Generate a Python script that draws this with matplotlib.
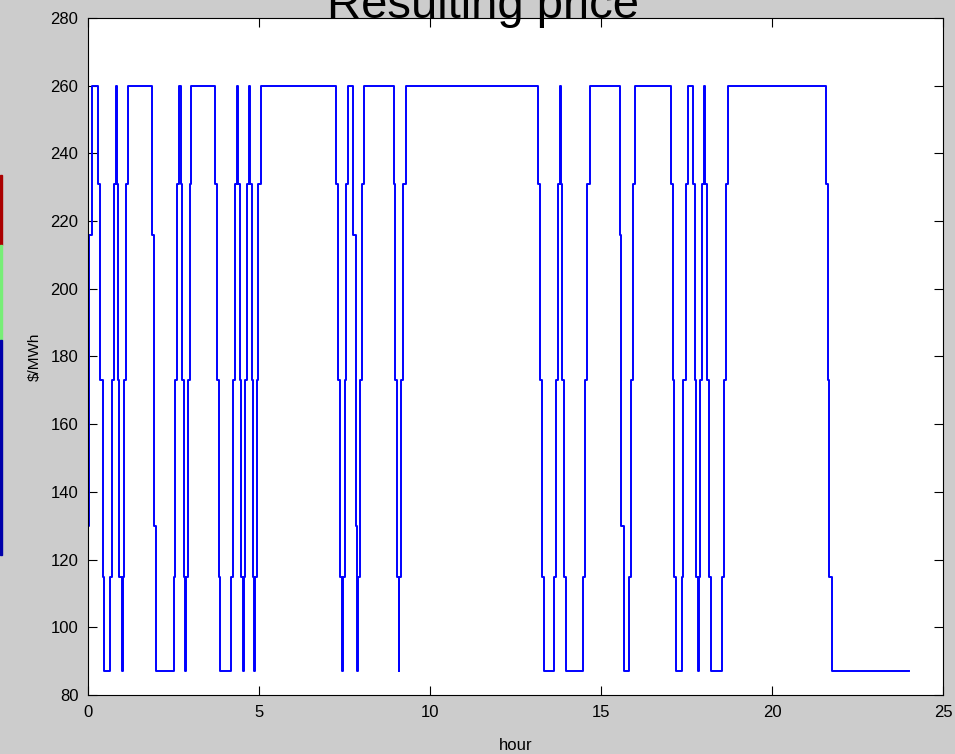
import matplotlib
matplotlib.use('Agg')
import matplotlib.pyplot as plt
import matplotlib.patches as mpatches

# Precio resultante: curva escalonada, cada punto es la hora en que empieza un nuevo precio
hours = [0.0, 0.01, 0.04, 0.112, 0.307, 0.356, 0.434, 0.473, 0.648, 0.697,
         0.746, 0.814, 0.835, 0.863, 0.911, 0.99, 1.01, 1.06, 1.11, 1.184,
         1.876, 1.944, 1.974, 2.50, 2.558, 2.607, 2.675, 2.714, 2.753, 2.802,
         2.841, 2.87, 2.919, 2.968, 3.017, 3.728, 3.777, 3.825, 3.874, 4.186,
         4.235, 4.284, 4.352, 4.381, 4.43, 4.478, 4.527, 4.547, 4.596, 4.644,
         4.703, 4.732, 4.781, 4.829, 4.868, 4.888, 4.937, 4.985, 5.044, 7.256,
         7.305, 7.373, 7.422, 7.451, 7.5, 7.549, 7.597, 7.763, 7.841, 7.88,
         7.895, 7.958, 8.007, 8.065, 8.933, 8.981, 9.04, 9.089, 9.105, 9.16,
         9.21, 9.284, 13.153, 13.221, 13.27, 13.319, 13.64, 13.689, 13.738, 13.787,
         13.816, 13.865, 13.913, 13.962, 14.488, 14.537, 14.596, 14.664, 15.541, 15.59,
         15.658, 15.833, 15.882, 15.931, 15.999, 17.052, 17.1, 17.149, 17.198, 17.373,
         17.412, 17.49, 17.558, 17.685, 17.734, 17.782, 17.831, 17.86, 17.909, 17.958,
         18.026, 18.046, 18.094, 18.153, 18.202, 18.543, 18.592, 18.66, 18.728, 21.584,
         21.632, 21.681, 21.75, 24.0]

price = [0, 130, 216, 260, 231, 173, 115, 87, 115, 173,
         231, 260, 231, 173, 115, 87, 115, 173, 231, 260,
         216, 130, 87, 115, 173, 231, 260, 231, 173, 115,
         87, 115, 173, 231, 260, 231, 173, 115, 87, 115,
         173, 231, 260, 231, 173, 115, 87, 115, 173, 231,
         260, 231, 173, 115, 87, 115, 173, 231, 260, 231,
         173, 115, 87, 115, 173, 231, 260, 216, 130, 87,
         115, 173, 231, 260, 231, 173, 115, 87, 115, 173,
         231, 260, 231, 173, 115, 87, 115, 173, 231, 260,
         231, 173, 115, 87, 115, 173, 231, 260, 216, 130,
         87, 115, 173, 231, 260, 231, 173, 115, 87, 115,
         173, 231, 260, 231, 173, 115, 87, 115, 173, 231,
         260, 231, 173, 115, 87, 115, 173, 231, 260, 231,
         173, 115, 87, 87]

x_ticks = [0, 5, 10, 15, 20, 25]
y_ticks = [80, 100, 120, 140, 160, 180, 200, 220, 240, 260, 280]

TICK_FONT = ['Liberation Sans', 'DejaVu Sans']

fig = plt.figure(figsize=(9.55, 7.54), dpi=100, facecolor='#cccccc')
ax = fig.add_axes([88 / 955, 1 - 695 / 754, (943 - 88) / 955, (695 - 18) / 754])
ax.set_facecolor('white')

ax.step(hours, price, where='post', color='#0000ff', lw=1.4)

ax.set_xlim(0, 25)
ax.set_ylim(80, 280)
ax.set_xticks(x_ticks)
ax.set_yticks(y_ticks)
ax.tick_params(direction='in', top=True, right=True, length=6.5, width=0.8,
               labelsize=12, pad=7)
for lab in ax.get_xticklabels() + ax.get_yticklabels():
    lab.set_family(TICK_FONT)
for s in ax.spines.values():
    s.set_linewidth(0.8)

ax.set_xlabel('hour', fontsize=12, family=TICK_FONT, labelpad=13)
ax.set_ylabel('$/MWh', fontsize=11, family=TICK_FONT, labelpad=6)

# titulo grande, cortado arriba como en la diapositiva
fig.text(483 / 955, 1 - 18 / 754, 'Resulting price', ha='center', va='baseline',
         fontsize=34, family=['Liberation Sans', 'DejaVu Sans'])

# restos de color en el borde izquierdo
for y0, y1, c in [(175, 245, '#aa0000'), (245, 340, '#77ee77'), (340, 555, '#0000aa')]:
    fig.patches.append(mpatches.Rectangle((0, 1 - y1 / 754), 2 / 955, (y1 - y0) / 754,
                                          transform=fig.transFigure, color=c))

fig.savefig('out.png', dpi=100, facecolor=fig.get_facecolor())
